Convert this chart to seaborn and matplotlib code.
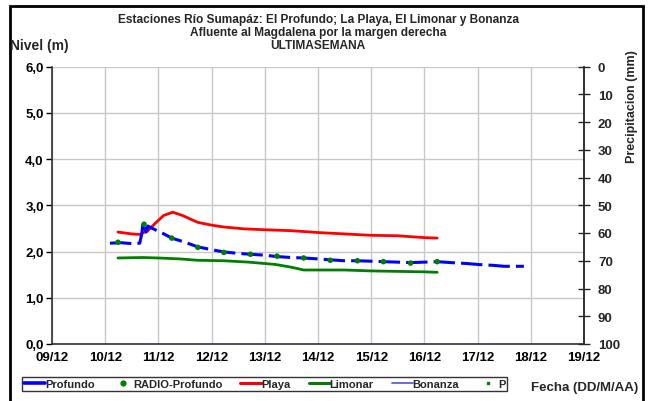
import matplotlib
matplotlib.use("Agg")
import matplotlib.pyplot as plt
import matplotlib.lines as mlines
from matplotlib.patches import Rectangle
import seaborn as sns

# ---------------- data ----------------
day_ticks = [9, 10, 11, 12, 13, 14, 15, 16, 17, 18, 19]
day_labels = ["09/12", "10/12", "11/12", "12/12", "13/12", "14/12",
              "15/12", "16/12", "17/12", "18/12", "19/12"]

profundo_x = [10.09, 10.30, 10.50, 10.65, 10.69, 10.71, 10.77, 10.80, 10.94, 11.07,
              11.25, 11.50, 11.74, 12.00, 12.23, 12.50, 12.73, 13.00, 13.23, 13.50,
              13.73, 14.00, 14.23, 14.50, 14.74, 15.00, 15.23, 15.50, 15.74, 16.00,
              16.24, 16.50, 16.80, 17.00, 17.30, 17.50, 17.87]
profundo_y = [2.18, 2.19, 2.17, 2.18, 2.40, 2.62, 2.42, 2.55, 2.47, 2.40,
              2.29, 2.20, 2.10, 2.04, 1.99, 1.96, 1.94, 1.92, 1.89, 1.87,
              1.86, 1.84, 1.82, 1.80, 1.80, 1.79, 1.78, 1.77, 1.76, 1.77,
              1.78, 1.76, 1.74, 1.72, 1.70, 1.68, 1.68]

radio_x = [10.24, 10.73, 11.25, 11.74, 12.23, 12.73, 13.23, 13.73, 14.23, 14.74,
           15.23, 15.74, 16.24]
radio_y = [2.20, 2.59, 2.29, 2.09, 1.98, 1.94, 1.90, 1.86, 1.81, 1.80,
           1.78, 1.75, 1.78]

playa_x = [10.24, 10.50, 10.65, 10.80, 10.95, 11.10, 11.27, 11.45, 11.74, 12.00,
           12.23, 12.60, 13.00, 13.50, 14.00, 14.50, 15.00, 15.50, 16.00, 16.24]
playa_y = [2.42, 2.38, 2.37, 2.45, 2.62, 2.78, 2.85, 2.78, 2.63, 2.57,
           2.53, 2.49, 2.47, 2.45, 2.41, 2.38, 2.35, 2.34, 2.30, 2.29]

limonar_x = [10.24, 10.70, 11.00, 11.40, 11.74, 12.23, 12.70, 13.20, 13.50, 13.73,
             14.00, 14.50, 15.00, 15.50, 16.00, 16.24]
limonar_y = [1.86, 1.87, 1.86, 1.84, 1.81, 1.80, 1.77, 1.72, 1.66, 1.60,
             1.60, 1.60, 1.58, 1.57, 1.56, 1.55]

bonanza_x = [10.73, 11.50, 12.50, 13.50, 14.50, 15.50, 16.50, 17.25]
bonanza_y = [0.0, 0.0, 0.0, 0.0, 0.0, 0.0, 0.0, 0.0]

p_x = []
p_y = []

# ---------------- style ----------------
sns.set_style("white")
plt.rcParams['font.family'] = ['Liberation Sans', 'DejaVu Sans']
plt.rcParams['font.weight'] = 'bold'

fig = plt.figure(figsize=(6.5, 4.02), dpi=100)
W, H = 650.0, 402.0
ax = fig.add_axes([52 / W, 1 - 345 / H, (584 - 52) / W, (345 - 67.5) / H])

grid_c = "#c8c8c8"
ax.set_xlim(9, 19)
ax.set_ylim(0, 6)
ax.set_xticks(day_ticks)
ax.set_xticklabels(day_labels)
ax.set_yticks([0, 1, 2, 3, 4, 5, 6])
ax.set_yticklabels([f"{v},0" for v in range(7)])
ax.grid(True, color=grid_c, linewidth=1.0)
ax.set_axisbelow(True)

sns.lineplot(x=bonanza_x, y=bonanza_y, ax=ax, color="#5050e0", linewidth=1.0,
             label="Bonanza", legend=False, zorder=3)
sns.lineplot(x=limonar_x, y=limonar_y, ax=ax, color="#008000", linewidth=2.0,
             label="Limonar", legend=False, zorder=3)
sns.lineplot(x=playa_x, y=playa_y, ax=ax, color="#ff0000", linewidth=2.0,
             label="Playa", legend=False, zorder=3)
sns.lineplot(x=profundo_x, y=profundo_y, ax=ax, color="#0000ff", linewidth=2.2,
             label="Profundo", legend=False, zorder=4, linestyle=(0, (7, 2)))
sns.scatterplot(x=radio_x, y=radio_y, ax=ax, color="#008000", s=16,
                edgecolor="none", label="RADIO-Profundo", legend=False, zorder=5)

ax.spines["top"].set_visible(False)
for sp in ["left", "bottom", "right"]:
    ax.spines[sp].set_color("#303030")
    ax.spines[sp].set_linewidth(1.2)

ax.tick_params(axis="both", labelsize=9.5, colors="black", length=4, width=1,
               direction="out")
ax.tick_params(axis="y", pad=2)
ax.tick_params(axis="x", pad=1)
for t in ax.get_xticklabels() + ax.get_yticklabels():
    t.set_fontweight("bold")

ax2 = ax.twinx()
ax2.set_ylim(100, 0)
ax2.set_yticks(list(range(0, 101, 10)))
ax2.tick_params(axis="y", labelsize=9.5, direction="inout", length=8, width=1, pad=6)
for t in ax2.get_yticklabels():
    t.set_fontweight("bold")
ax2.spines["top"].set_visible(False)
ax2.spines["right"].set_color("#303030")
ax2.spines["right"].set_linewidth(1.2)
ax2.spines["left"].set_visible(False)
ax2.spines["bottom"].set_visible(False)
ax2.scatter(p_x, p_y, color="#008000", s=6, label="P")

# legend
handles = [
    mlines.Line2D([], [], color="#0000ff", linewidth=2.6),
    mlines.Line2D([], [], color="#008000", marker="o", linestyle="none", markersize=3.5),
    mlines.Line2D([], [], color="#ff0000", linewidth=2.2),
    mlines.Line2D([], [], color="#008000", linewidth=2.2),
    mlines.Line2D([], [], color="#5050e0", linewidth=1.2),
    mlines.Line2D([], [], color="#008000", marker="s", linestyle="none", markersize=2),
]
labels = ["Profundo", "RADIO-Profundo", "Playa", "Limonar", "Bonanza", "P"]
leg = fig.legend(handles, labels, loc="center left", bbox_to_anchor=(22 / W, 1 - 385 / H),
                 ncol=6, fontsize=8, frameon=True, fancybox=False, edgecolor="black",
                 handlelength=1.9, handletextpad=0.0, columnspacing=1.6,
                 borderpad=0.15, borderaxespad=0)
leg.get_frame().set_linewidth(1.0)
for t in leg.get_texts():
    t.set_fontweight("bold")

# texts
fig.text(318 / W, 1 - 14.5 / H,
         "Estaciones Río Sumapáz: El Profundo; La Playa, El Limonar y Bonanza\n"
         "Afluente al Magdalena por la margen derecha\nULTIMASEMANA",
         ha="center", va="top", fontsize=8.6, fontweight="bold", linespacing=1.08)
fig.text(10 / W, 1 - 46 / H, "Nivel (m)", ha="left", va="center",
         fontsize=10, fontweight="bold")
fig.text(632 / W, 1 - 107 / H, "Precipitacion (mm)", ha="center", va="center",
         rotation=90, fontsize=9, fontweight="bold")
fig.text(585 / W, 1 - 388 / H, "Fecha (DD/M/AA)", ha="center", va="center",
         fontsize=9.5, fontweight="bold")

# outer frame
fig.patches.append(Rectangle((9.5 / W, -0.05), (643 - 9.5) / W, 1 - 7 / H + 0.05,
                             transform=fig.transFigure, fill=False,
                             edgecolor="black", linewidth=2.0, zorder=0))

fig.savefig("out.png", dpi=100, facecolor="white")
